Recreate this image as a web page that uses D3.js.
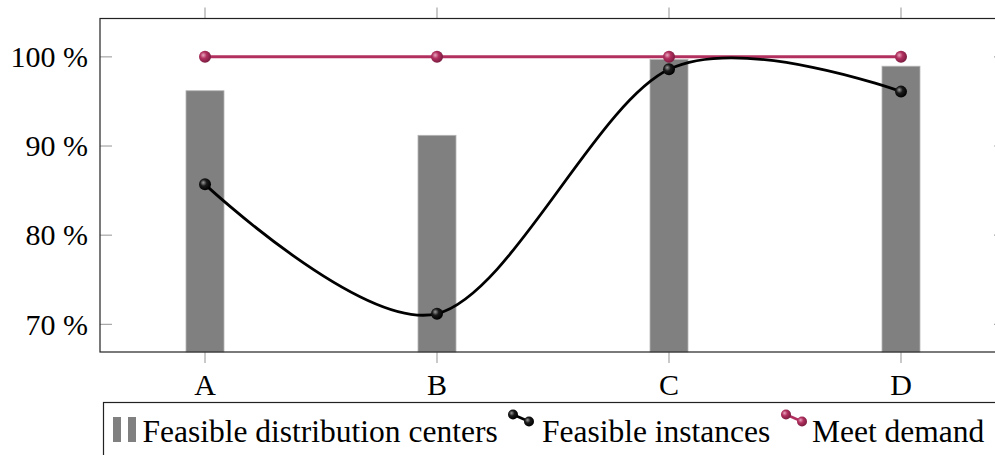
<!DOCTYPE html>
<html>
<head>
<meta charset="utf-8">
<script src="https://cdn.jsdelivr.net/npm/d3@7"></script>
<style>
  html, body { margin: 0; padding: 0; background: #fff; }
  svg { display: block; }
</style>
</head>
<body>
<svg id="chart" width="995" height="455"></svg>
<script>
// Sites and their results (percent)
const categories = ["A", "B", "C", "D"];
const feasibleCenters = [96.2, 91.2, 99.7, 98.95];
const feasibleInstances = [85.7, 71.2, 98.6, 96.1];
const meetDemand = [100, 100, 100, 100];
const yTicks = [70, 80, 90, 100];
const legendLabels = ["Feasible distribution centers", "Feasible instances", "Meet demand"];

const serif = "Liberation Serif";
const svg = d3.select("#chart");
const plot = { left: 100, right: 1006, top: 18.5, bottom: 352 };

const x = d3.scalePoint().domain(categories).range([plot.left, plot.right]).padding(0.4526);
const y = d3.scaleLinear().domain([66.9, 104.3]).range([plot.bottom, plot.top]);

const pink = "#b2305f";
const barW = 38;

// Shaded ball markers
const defs = svg.append("defs");
function ball(id, light, mid, dark) {
  const g = defs.append("radialGradient").attr("id", id)
    .attr("cx", "0.4").attr("cy", "0.4").attr("r", "0.6").attr("fx", "0.35").attr("fy", "0.35");
  g.append("stop").attr("offset", "0").attr("stop-color", light);
  g.append("stop").attr("offset", "0.45").attr("stop-color", mid);
  g.append("stop").attr("offset", "1").attr("stop-color", dark);
}
ball("ballBlack", "#9a9a9a", "#1a1a1a", "#000");
ball("ballPink", "#e7a9c0", "#b2305f", "#7a1d40");

// Bars
svg.append("g").selectAll("rect").data(categories).join("rect")
  .attr("x", d => x(d) - barW / 2)
  .attr("width", barW)
  .attr("y", (d, i) => y(feasibleCenters[i]))
  .attr("height", (d, i) => plot.bottom - y(feasibleCenters[i]))
  .attr("fill", "#808080")
  .attr("stroke", "#b5b5b5")
  .attr("stroke-width", 0.8);

// Ticks
const tickColor = "#a6a6a6";
const ticks = svg.append("g").attr("stroke", tickColor).attr("stroke-width", 1.2);
categories.forEach(c => {
  ticks.append("line").attr("x1", x(c)).attr("x2", x(c)).attr("y1", plot.top - 11).attr("y2", plot.top);
  ticks.append("line").attr("x1", x(c)).attr("x2", x(c)).attr("y1", plot.bottom).attr("y2", plot.bottom + 11);
});
yTicks.forEach(v => {
  ticks.append("line").attr("x1", plot.left).attr("x2", plot.left + 12).attr("y1", y(v)).attr("y2", y(v));
  ticks.append("line").attr("x1", plot.right - 12).attr("x2", plot.right).attr("y1", y(v)).attr("y2", y(v));
});

// Meet demand line
const straight = d3.line().x((d, i) => x(categories[i])).y(d => y(d));
svg.append("path").attr("d", straight(meetDemand))
  .attr("fill", "none").attr("stroke", pink).attr("stroke-width", 3);

// Feasible instances smooth curve
const smooth = d3.line().x((d, i) => x(categories[i])).y(d => y(d)).curve(d3.curveCardinal.tension(0.05));
svg.append("path").attr("d", smooth(feasibleInstances))
  .attr("fill", "none").attr("stroke", "#000").attr("stroke-width", 2.8);

svg.append("g").selectAll("circle").data(meetDemand).join("circle")
  .attr("cx", (d, i) => x(categories[i])).attr("cy", d => y(d)).attr("r", 6)
  .attr("fill", "url(#ballPink)");
svg.append("g").selectAll("circle").data(feasibleInstances).join("circle")
  .attr("cx", (d, i) => x(categories[i])).attr("cy", d => y(d)).attr("r", 6)
  .attr("fill", "url(#ballBlack)");

// Frame
svg.append("rect").attr("x", plot.left).attr("y", plot.top)
  .attr("width", plot.right - plot.left).attr("height", plot.bottom - plot.top)
  .attr("fill", "none").attr("stroke", "#222").attr("stroke-width", 1.2);

// Axis labels
svg.append("g").selectAll("text").data(yTicks).join("text")
  .style("font-family", serif).style("font-size", "30px")
  .attr("x", 88).attr("y", d => y(d)).attr("dy", "0.34em")
  .attr("text-anchor", "end")
  .text(d => d + " %");
svg.append("g").selectAll("text").data(categories).join("text")
  .style("font-family", serif).style("font-size", "30px")
  .attr("x", d => x(d)).attr("y", 395)
  .attr("text-anchor", "middle")
  .text(d => d);

// Legend
const lg = svg.append("g");
lg.append("rect").attr("x", 103.5).attr("y", 402.5).attr("width", 920).attr("height", 70)
  .attr("fill", "#fff").attr("stroke", "#222").attr("stroke-width", 1.2);
lg.append("rect").attr("x", 113).attr("y", 417).attr("width", 8).attr("height", 25).attr("fill", "#808080");
lg.append("rect").attr("x", 128).attr("y", 417).attr("width", 8).attr("height", 25).attr("fill", "#808080");

function legendText(xPos, label) {
  lg.append("text").style("font-family", serif).style("font-size", "31.5px")
    .attr("x", xPos).attr("y", 442).text(label);
}
function legendBalls(x0, grad, stroke) {
  lg.append("line").attr("x1", x0).attr("y1", 414.5).attr("x2", x0 + 16).attr("y2", 421.5)
    .attr("stroke", stroke).attr("stroke-width", 2.5);
  lg.append("circle").attr("cx", x0).attr("cy", 414.5).attr("r", 5).attr("fill", grad);
  lg.append("circle").attr("cx", x0 + 16).attr("cy", 421.5).attr("r", 5).attr("fill", grad);
}
legendText(142.5, legendLabels[0]);
legendBalls(513, "url(#ballBlack)", "#000");
legendText(542, legendLabels[1]);
legendBalls(786, "url(#ballPink)", pink);
legendText(812, legendLabels[2]);
</script>
</body>
</html>
